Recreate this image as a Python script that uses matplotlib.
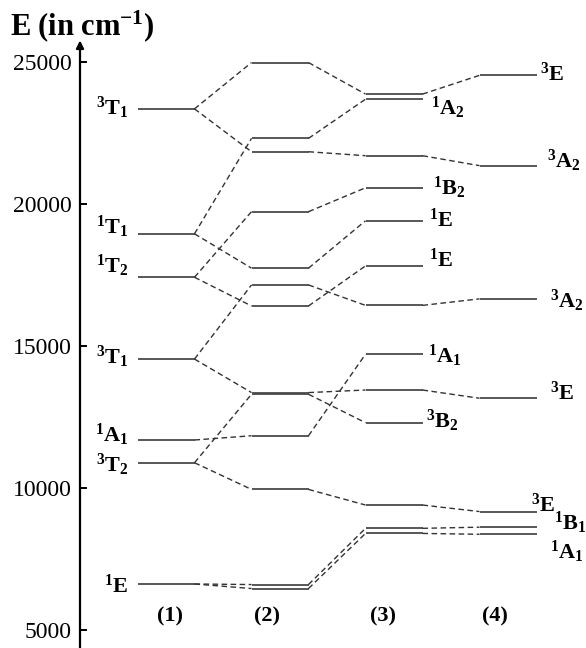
import matplotlib
matplotlib.use('Agg')
import matplotlib.pyplot as plt

plt.rcParams['font.family'] = ['Liberation Serif', 'DejaVu Serif']
plt.rcParams['mathtext.fontset'] = 'custom'
plt.rcParams['mathtext.rm'] = 'Liberation Serif'
plt.rcParams['mathtext.bf'] = 'Liberation Serif:bold'
plt.rcParams['mathtext.it'] = 'Liberation Serif:italic'

# energy levels (cm-1) in each column, top to bottom
col1 = [23350, 18950, 17420, 14540, 11690, 10890, 6620]
col2 = [24980, 22310, 21840, 19730, 17740, 17150, 16410, 13360, 13300, 11840, 9950, 6600, 6460]
col3 = [23870, 23690, 21700, 20570, 19410, 17820, 16430, 14710, 13450, 12300, 9400, 8580, 8400]
col4 = [24530, 21350, 16660, 13160, 9170, 8620, 8370]
columns = [col1, col2, col3, col4]

# correlation lines: (level in column i, level in column i+1)
links12 = [(0, 0), (0, 2), (1, 1), (1, 4), (2, 3), (2, 6), (3, 5), (3, 7),
           (4, 9), (5, 8), (5, 10), (6, 11), (6, 12)]
links23 = [(0, 0), (1, 1), (2, 2), (3, 3), (4, 4), (5, 6), (6, 5), (7, 8),
           (8, 9), (9, 7), (10, 10), (11, 11), (12, 12)]
links34 = [(0, 0), (2, 1), (6, 2), (8, 3), (10, 4), (11, 5), (12, 6)]
links = [links12, links23, links34]

col1_labels = ['{}^{3}T_{1}', '{}^{1}T_{1}', '{}^{1}T_{2}', '{}^{3}T_{1}',
               '{}^{1}A_{1}', '{}^{3}T_{2}', '{}^{1}E']
col3_labels = {1: '{}^{1}A_{2}', 3: '{}^{1}B_{2}', 4: '{}^{1}E', 5: '{}^{1}E',
               7: '{}^{1}A_{1}', 9: '{}^{3}B_{2}'}
col4_labels = ['{}^{3}E', '{}^{3}A_{2}', '{}^{3}A_{2}', '{}^{3}E', '{}^{3}E',
               '{}^{1}B_{1}', '{}^{1}A_{1}']
case_labels = ['(1)', '(2)', '(3)', '(4)']
yticks = [5000, 10000, 15000, 20000, 25000]

W, H = 586, 648
fig = plt.figure(figsize=(W / 100, H / 100), dpi=100)
ax = fig.add_axes([80 / W, 0, 506 / W, 1])
ax.set_xlim(0.2456, 4.6842)
ax.set_ylim(4366, 27183)

half = 0.25
lev_kw = dict(color='#4a4a4a', lw=1.3, solid_capstyle='butt')
dash_kw = dict(color='#333333', lw=1.0, dashes=(4, 2.5))

for c, col in enumerate(columns):
    x = c + 1
    for e in col:
        ax.plot([x - half, x + half], [e, e], **lev_kw)

for c, pairs in enumerate(links):
    a, b = columns[c], columns[c + 1]
    for i, j in pairs:
        ax.plot([c + 1 + half, c + 2 - half], [a[i], b[j]], **dash_kw)

lab_kw = dict(textcoords='offset pixels', fontsize=16, va='baseline')

# column 1 labels, left of levels
dy1 = [-6, 0, 4, -5, -2, -9, -9]
for e, lab, dy in zip(col1, col1_labels, dy1):
    ax.annotate(r'$\mathbf{' + lab + '}$', (1 - half, e), xytext=(-9, dy),
                ha='right', **lab_kw)

# column 3 labels, right of levels
off3 = {1: (8, -16), 3: (10, -7), 4: (6, -6), 5: (6, -1), 7: (5, -9), 9: (3, -5)}
for i, lab in col3_labels.items():
    ax.annotate(r'$\mathbf{' + lab + '}$', (3 + half, col3[i]), xytext=off3[i],
                ha='left', **lab_kw)

# column 4 labels
off4 = [(3, -5), (10, -2), (13, -9), (13, -2), (-6, 0), (17, -3), (13, -25)]
for e, lab, off in zip(col4, col4_labels, off4):
    ax.annotate(r'$\mathbf{' + lab + '}$', (4 + half, e), xytext=off,
                ha='left', **lab_kw)

# case numbers under the columns
case_dx = [4, -13, -11, -13]
for k, (lab, dx) in enumerate(zip(case_labels, case_dx)):
    ax.annotate(lab, (k + 1, 5460), xytext=(dx, 0), textcoords='offset pixels',
                ha='center', va='center', fontsize=16, fontweight='bold')

# energy axis with arrow
for s in ax.spines.values():
    s.set_visible(False)
ax.annotate('', xy=(0, 25760), xycoords=('axes fraction', 'data'),
            xytext=(0, 4366), textcoords=('axes fraction', 'data'),
            arrowprops=dict(arrowstyle='-|>', lw=1.6, color='black',
                            mutation_scale=11, shrinkA=0, shrinkB=0))
ax.set_xticks([])
ax.set_yticks(yticks)
ax.tick_params(axis='y', direction='in', length=5, width=1.4, pad=6,
               labelsize=17)

fig.text(10 / W, 1 - 35 / H, r'$\mathbf{E\ (in\ cm^{-1})}$', fontsize=22,
         va='baseline', ha='left')

fig.savefig('out.png', dpi=100)
